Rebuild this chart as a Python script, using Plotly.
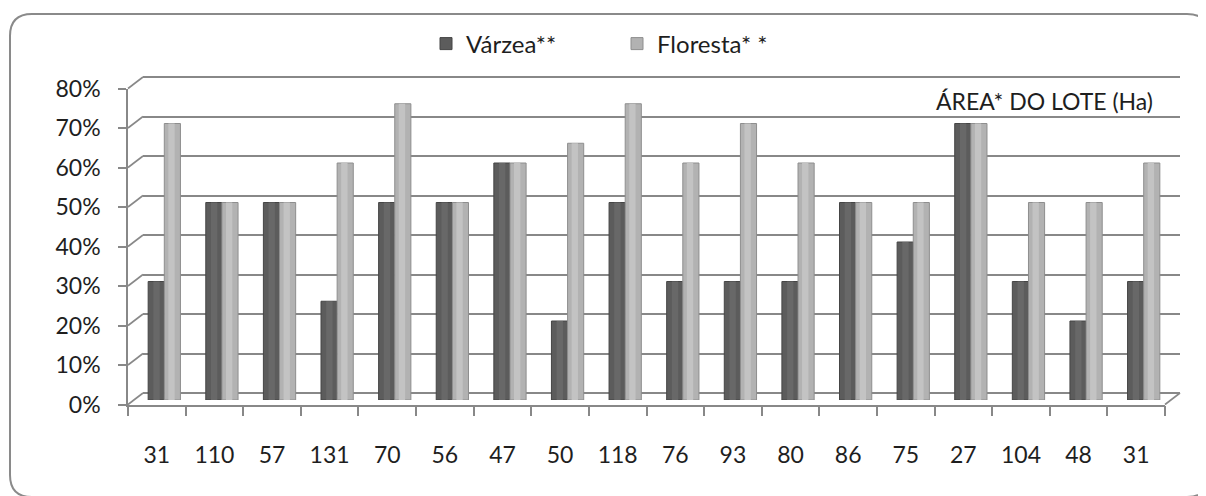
import plotly.graph_objects as go

# ---------------- data ----------------
categories = ["31", "110", "57", "131", "70", "56", "47", "50", "118",
              "76", "93", "80", "86", "75", "27", "104", "48", "31"]
varzea = [0.30, 0.50, 0.50, 0.25, 0.50, 0.50, 0.60, 0.20, 0.50,
          0.30, 0.30, 0.30, 0.50, 0.40, 0.70, 0.30, 0.20, 0.30]
floresta = [0.70, 0.50, 0.50, 0.60, 0.75, 0.50, 0.60, 0.65, 0.75,
            0.60, 0.70, 0.60, 0.50, 0.50, 0.70, 0.50, 0.50, 0.60]
y_ticks = [0.0, 0.1, 0.2, 0.3, 0.4, 0.5, 0.6, 0.7, 0.8]
series_names = ["Várzea**", "Floresta* *"]
axis_note = "ÁREA* DO LOTE (Ha)"

# ---------------- geometry (page pixels; page shows the figure at +8,+8) ----------------
W, H = 1206, 496
OFF = 8
def px(x):
    return (x - OFF) / W
def py(y):
    return 1 - (y - OFF) / H

FRONT_X = (128, 1165)
FRONT_Y = (404.5, 88.5)
BACK_X = (143, 1180)
BACK_Y = (393, 77)
MID_X = (135.5, 1172.5)
MID_Y = (400, 84)

FONT = "Lato, Calibri, Carlito, sans-serif"
TXT = "#1e1e1e"
LINE = "#888888"
n = len(categories)
idx = list(range(n))
xr = [-0.5, n - 0.5]
yr = [0, 0.8]
back_top = 0.82
back_top_px = BACK_Y[0] + (BACK_Y[1] - BACK_Y[0]) * back_top / 0.8

fig = go.Figure()

bw = 0.28
fig.add_trace(go.Bar(
    x=idx, y=varzea, name=series_names[0], width=bw, offset=-bw,
    marker=dict(color="#5c5c5c", line=dict(color="#454545", width=1)),
    xaxis="x3", yaxis="y3", hoverinfo="skip"))
fig.add_trace(go.Bar(
    x=idx, y=varzea, showlegend=False, width=0.11, offset=-bw + 0.09,
    marker=dict(color="#686868", line=dict(width=0)),
    xaxis="x3", yaxis="y3", hoverinfo="skip"))
fig.add_trace(go.Bar(
    x=idx, y=floresta, name=series_names[1], width=bw, offset=0,
    marker=dict(color="#b2b2b2", line=dict(color="#8e8e8e", width=1)),
    xaxis="x3", yaxis="y3", hoverinfo="skip"))
fig.add_trace(go.Bar(
    x=idx, y=floresta, showlegend=False, width=0.11, offset=0.07,
    marker=dict(color="#c3c3c3", line=dict(width=0)),
    xaxis="x3", yaxis="y3", hoverinfo="skip"))

shapes = []
def fy(v):
    return FRONT_Y[0] + (FRONT_Y[1] - FRONT_Y[0]) * v / 0.8
def by(v):
    return BACK_Y[0] + (BACK_Y[1] - BACK_Y[0]) * v / 0.8
for v in y_ticks:
    shapes.append(dict(type="line", xref="paper", yref="paper",
                       x0=px(FRONT_X[0]), y0=py(fy(v)),
                       x1=px(BACK_X[0]), y1=py(by(v)),
                       line=dict(color=LINE, width=1.6)))
shapes.append(dict(type="line", xref="paper", yref="paper",
                   x0=px(FRONT_X[1]), y0=py(fy(0)),
                   x1=px(BACK_X[1]), y1=py(by(0)),
                   line=dict(color=LINE, width=1.6)))
L, T, R, B, r = 10, 14, 1209, 497, 22
path = (f"M {px(L)},{py(T + r)} Q {px(L)},{py(T)} {px(L + r)},{py(T)} "
        f"L {px(R - r)},{py(T)} Q {px(R)},{py(T)} {px(R)},{py(T + r)} "
        f"L {px(R)},{py(B - r)} Q {px(R)},{py(B)} {px(R - r)},{py(B)} "
        f"L {px(L + r)},{py(B)} Q {px(L)},{py(B)} {px(L)},{py(B - r)} Z")
shapes.append(dict(type="path", xref="paper", yref="paper", path=path,
                   line=dict(color="#8a8a8a", width=2), layer="below"))

fig.update_layout(
    template="none",
    width=W, height=H, autosize=False,
    margin=dict(l=0, r=0, t=0, b=0, pad=0, autoexpand=False),
    paper_bgcolor="white", plot_bgcolor="rgba(0,0,0,0)",
    barmode="overlay",
    font=dict(family=FONT, size=23, color=TXT),
    showlegend=True,
    legend=dict(orientation="h", x=px(426), y=py(44), xanchor="left",
                yanchor="middle", font=dict(family=FONT, size=24, color=TXT),
                entrywidth=146, entrywidthmode="pixels",
                bgcolor="rgba(0,0,0,0)", traceorder="normal"),
    shapes=shapes,
    annotations=[dict(text=axis_note, xref="paper", yref="paper",
                      x=px(934), y=py(101), xanchor="left", yanchor="middle",
                      showarrow=False, font=dict(family=FONT, size=23, color=TXT))],
    xaxis=dict(domain=[px(FRONT_X[0]), px(FRONT_X[1])], range=xr, anchor="y",
               automargin=False,
               tickmode="array", tickvals=idx, ticktext=categories,
               ticks="", showgrid=False, zeroline=False,
               showline=True, linecolor=LINE, linewidth=1.6,
               ticklabelstandoff=29,
               minor=dict(tick0=-0.5, dtick=1, ticks="outside", ticklen=10,
                          tickcolor=LINE, tickwidth=1.6, showgrid=False),
               tickfont=dict(family=FONT, size=23, color=TXT)),
    yaxis=dict(domain=[py(FRONT_Y[0]), py(FRONT_Y[1])], range=yr, anchor="x",
               automargin=False,
               tickmode="array", tickvals=y_ticks, tickformat=".0%",
               ticks="outside", ticklen=8, tickcolor=LINE, tickwidth=1.6,
               showgrid=False, zeroline=False,
               showline=True, linecolor=LINE, linewidth=1.6,
               ticklabelstandoff=13,
               tickfont=dict(family=FONT, size=23, color=TXT)),
    xaxis2=dict(domain=[px(BACK_X[0]), px(BACK_X[1])], range=xr, anchor="y2",
                automargin=False,
                showticklabels=False, ticks="", showgrid=False,
                zeroline=False, showline=False),
    yaxis2=dict(domain=[py(BACK_Y[0]), py(back_top_px)], range=[0, back_top],
                anchor="x2", automargin=False,
                tickmode="array", tickvals=y_ticks, showticklabels=False,
                ticks="", showgrid=True, gridcolor=LINE, gridwidth=1.6,
                zeroline=True, zerolinecolor=LINE, zerolinewidth=1.6,
                showline=False),
    xaxis3=dict(domain=[px(MID_X[0]), px(MID_X[1])], range=xr, anchor="y3",
                visible=False, automargin=False),
    yaxis3=dict(domain=[py(MID_Y[0]), py(MID_Y[1])], range=yr, anchor="x3",
                visible=False, automargin=False),
)

fig.add_trace(go.Scatter(x=[0], y=[0], mode="markers", marker=dict(opacity=0),
                         showlegend=False, hoverinfo="skip", xaxis="x", yaxis="y"))
fig.add_trace(go.Scatter(x=[0], y=[0], mode="markers", marker=dict(opacity=0),
                         showlegend=False, hoverinfo="skip", xaxis="x2", yaxis="y2"))

fig.write_html("out.html")
